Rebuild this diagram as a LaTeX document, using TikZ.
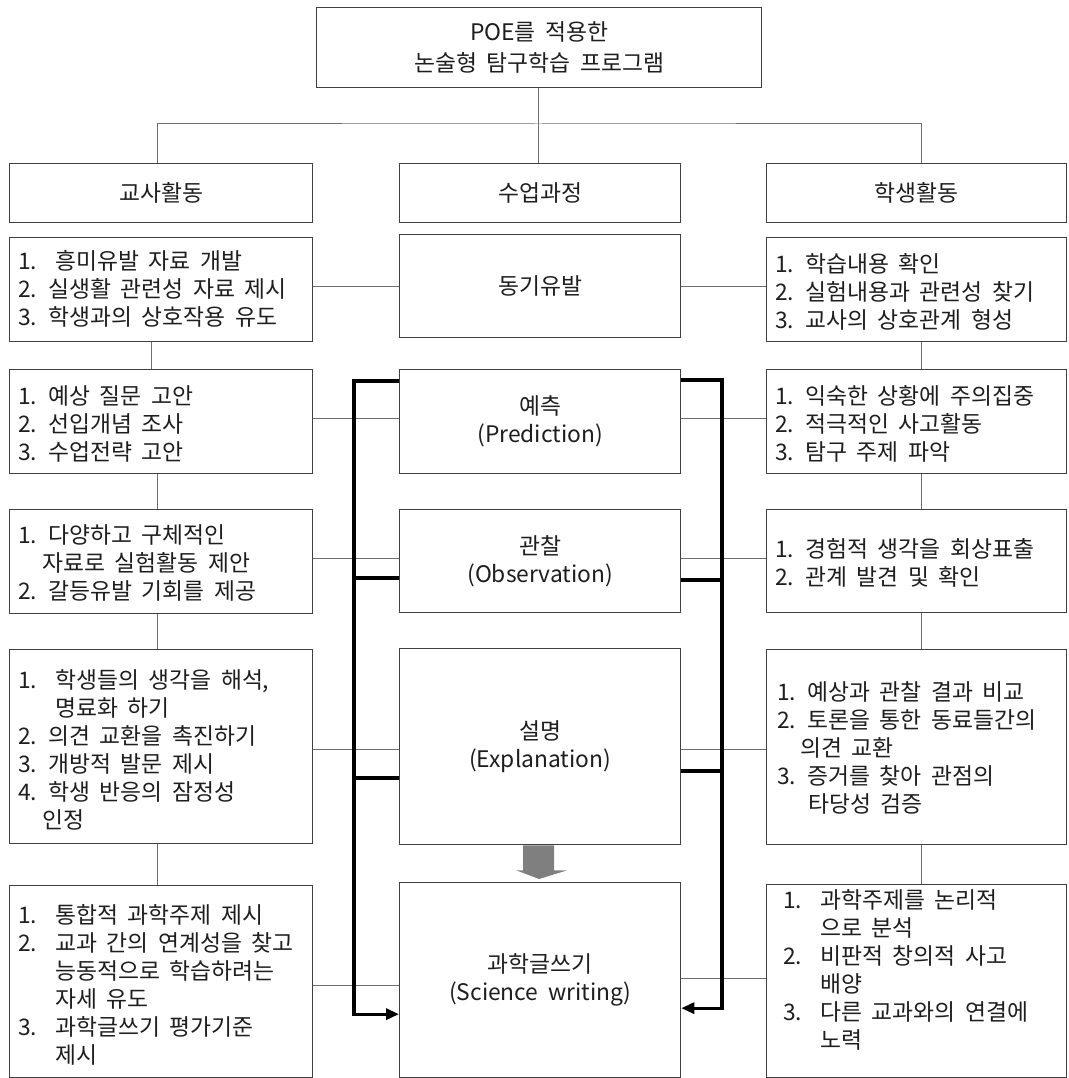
\documentclass[tikz,border=0pt]{standalone}
\usepackage{fontspec}
\setmainfont{Noto Sans CJK KR}
\usetikzlibrary{arrows.meta}
\definecolor{boxc}{HTML}{404040}
\definecolor{connc}{HTML}{6E6E6E}
\definecolor{txtc}{HTML}{1E1E1E}
\definecolor{agray}{HTML}{7F7F7F}
\newcommand\kofont{\fontsize{22.8}{28}\selectfont\spaceskip=9.5pt plus 2pt minus 2pt\relax}
\newcommand\kotop{\fontsize{22.8}{31}\selectfont\spaceskip=9.5pt plus 2pt minus 2pt\relax}
\newcommand\nb[2]{\makebox[#1pt][l]{#2}}
\begin{document}
\begin{tikzpicture}[x=1pt,y=-1pt,
  box/.style={draw=boxc, line width=1.3pt, fill=white, inner sep=0pt, anchor=north west, text=txtc, font=\kofont, align=center},
  txt/.style={anchor=west, inner sep=0pt, align=left, text=txtc, font=\kofont},
  conn/.style={draw=connc, line width=1pt},
  thk/.style={draw=black, line width=3.2pt},
  tip/.style={-{Triangle[length=13pt,width=11pt]}}
]
\useasboundingbox (0,0) rectangle (1068,1078);

% top and headers
\node[box, minimum width=445pt, minimum height=80pt, font=\kotop] (top) at (316,7) {POE를 적용한\\논술형 탐구학습 프로그램};
\node[box, minimum width=303pt, minimum height=59pt] (hL) at (9,163) {교사활동};
\node[box, minimum width=281pt, minimum height=59pt] (hC) at (399,163) {수업과정};
\node[box, minimum width=300pt, minimum height=59pt] (hR) at (766,163) {학생활동};

% center column
\node[box, minimum width=281pt, minimum height=103pt] (C1) at (399,234) {동기유발};
\node[box, minimum width=281pt, minimum height=104pt] (C2) at (399,369) {예측\\(Prediction)};
\node[box, minimum width=281pt, minimum height=103pt] (C3) at (399,509) {관찰\\(Observation)};
\node[box, minimum width=281pt, minimum height=196pt] (C4) at (399,648) {설명\\(Explanation)};
\node[box, minimum width=281pt, minimum height=195pt] (C5) at (399,882) {과학글쓰기\\(Science writing)};

% left column
\node[box, minimum width=303pt, minimum height=104pt] (L1) at (9,237) {};
\node[box, minimum width=303pt, minimum height=104pt] (L2) at (9,369) {};
\node[box, minimum width=303pt, minimum height=104pt] (L3) at (9,509) {};
\node[box, minimum width=303pt, minimum height=194pt] (L4) at (9,649) {};
\node[box, minimum width=303pt, minimum height=192pt] (L5) at (9,885) {};

% right column
\node[box, minimum width=300pt, minimum height=104pt] (R1) at (766,237) {};
\node[box, minimum width=300pt, minimum height=104pt] (R2) at (766,369) {};
\node[box, minimum width=300pt, minimum height=103pt] (R3) at (766,509) {};
\node[box, minimum width=300pt, minimum height=195pt] (R4) at (766,649) {};
\node[box, minimum width=300pt, minimum height=193pt] (R5) at (766,884) {};

% texts left
\node[txt] (L1t) at (18,289) {\nb{37}{1.}흥미유발 자료 개발\\2. 실생활 관련성 자료 제시\\3. 학생과의 상호작용 유도};
\node[txt] (L2t) at (18,424) {1. 예상 질문 고안\\2. 선입개념 조사\\3. 수업전략 고안};
\node[txt] (L3t) at (18,563) {1. 다양하고 구체적인\\\hspace*{24pt}자료로 실험활동 제안\\2. 갈등유발 기회를 제공};
\node[txt] (L4t) at (18,750) {\nb{37}{1.}학생들의 생각을 해석,\\\hspace*{37pt}명료화 하기\\2. 의견 교환을 촉진하기\\3. 개방적 발문 제시\\4. 학생 반응의 잠정성\\\hspace*{24pt}인정};
\node[txt] (L5t) at (18,985) {\nb{37}{1.}통합적 과학주제 제시\\\nb{37}{2.}교과 간의 연계성을 찾고\\\hspace*{37pt}능동적으로 학습하려는\\\hspace*{37pt}자세 유도\\\nb{37}{3.}과학글쓰기 평가기준\\\hspace*{37pt}제시};

% texts right
\node[txt] (R1t) at (775,292) {1. 학습내용 확인\\2. 실험내용과 관련성 찾기\\3. 교사의 상호관계 형성};
\node[txt] (R2t) at (775,424) {1. 익숙한 상황에 주의집중\\2. 적극적인 사고활동\\3. 탐구 주제 파악};
\node[txt] (R3t) at (775,563) {1. 경험적 생각을 회상표출\\2. 관계 발견 및 확인};
\node[txt] (R4t) at (777,748) {1. 예상과 관찰 결과 비교\\2. 토론을 통한 동료들간의\\\hspace*{23pt}의견 교환\\3. 증거를 찾아 관점의\\\hspace*{31pt}타당성 검증};
\node[txt] (R5t) at (783,970) {\nb{37}{1.}과학주제를 논리적\\\hspace*{37pt}으로 분석\\\nb{37}{2.}비판적 창의적 사고\\\hspace*{37pt}배양\\\nb{37}{3.}다른 교과와의 연결에\\\hspace*{37pt}노력};

% helper coordinates
\coordinate (hub) at (538.5,124);
\coordinate (xl) at (157,0);
\coordinate (xl1) at (151,0);
\coordinate (xr) at (921,0);
\coordinate (bl) at (354,0);
\coordinate (br) at (722,0);

% tree connectors
\draw[conn] (top.south -| hub) -- (hub);
\draw[conn] (hL.north -| xl) |- (hub) -| (hR.north -| xr);
\draw[conn] (hub) -- (hub |- hC.north);

% vertical connectors in side columns
\draw[conn] (L1.south -| xl1) -- (L2.north -| xl1);
\draw[conn] (L2.south -| xl) -- (L3.north -| xl);
\draw[conn] (L3.south -| xl) -- (L4.north -| xl);
\draw[conn] (L4.south -| xl) -- (L5.north -| xl);
\draw[conn] (R1.south -| xr) -- (R2.north -| xr);
\draw[conn] (R2.south -| xr) -- (R3.north -| xr);
\draw[conn] (R3.south -| xr) -- (R4.north -| xr);
\draw[conn] (R4.south -| xr) -- (R5.north -| xr);

% horizontal connectors
\draw[conn] (L1.east |- C1.west) -- (C1.west);
\draw[conn] (C1.east) -- (C1.east -| R1.west);
\draw[conn] ([yshift=3pt]C2.west -| L2.east) -- ([yshift=3pt]C2.west);
\draw[conn] ([yshift=3pt]C2.east) -- ([yshift=3pt]C2.east -| R2.west);
\draw[conn] ([yshift=2.5pt]C3.west -| L3.east) -- ([yshift=2.5pt]C3.west);
\draw[conn] ([yshift=2.5pt]C3.east) -- ([yshift=2.5pt]C3.east -| R3.west);
\draw[conn] ([yshift=-3pt]C4.west -| L4.east) -- ([yshift=-3pt]C4.west);
\draw[conn] ([yshift=-3pt]C4.east) -- ([yshift=-3pt]C4.east -| R4.west);
\draw[conn] ([yshift=-5.5pt]C5.west -| L5.east) -- ([yshift=-5.5pt]C5.west);
\draw[conn] ([yshift=1.5pt]C5.east) -- ([yshift=1.5pt]C5.east -| R5.west);

% thick feedback brackets
\draw[thk, tip] ([yshift=-12pt]C2.north west) -- ([yshift=-12pt]C2.north west -| bl) |- ([yshift=-34pt]C5.west);
\draw[thk, tip] ([yshift=-11pt]C2.north east) -- ([yshift=-11pt]C2.north east -| br) |- ([yshift=-28pt]C5.east);
\draw[thk] ([yshift=-69pt]C3.north west) -- ([yshift=-69pt]C3.north west -| bl);
\draw[thk] ([yshift=-71pt]C3.north east) -- ([yshift=-71pt]C3.north east -| br);
\draw[thk] ([yshift=-130pt]C4.north west) -- ([yshift=-130pt]C4.north west -| bl);
\draw[thk] ([yshift=-123pt]C4.north east) -- ([yshift=-123pt]C4.north east -| br);

% gray block arrow
\fill[agray] ([xshift=-17pt]C4.south) -- ([xshift=14pt]C4.south) -- ([xshift=14pt,yshift=-25pt]C4.south) -- ([xshift=27pt,yshift=-25pt]C4.south) -- ([xshift=-1pt,yshift=3pt]C5.north) -- ([xshift=-24pt,yshift=-25pt]C4.south) -- ([xshift=-17pt,yshift=-25pt]C4.south) -- cycle;
\end{tikzpicture}
\end{document}
